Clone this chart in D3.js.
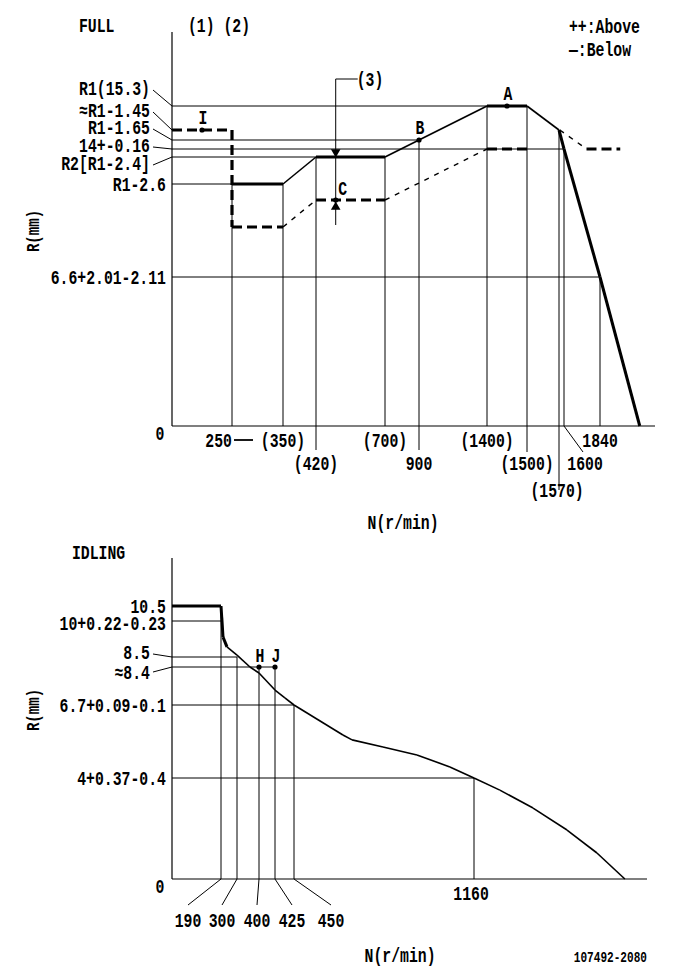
<!DOCTYPE html>
<html>
<head>
<meta charset="utf-8">
<script src="https://cdn.jsdelivr.net/npm/d3@7"></script>
<style>
body { margin: 0; background: #fff; }
svg { display: block; }
text { font-family: "Liberation Mono", "DejaVu Sans Mono", monospace; font-weight: bold; fill: #000; }
</style>
</head>
<body>
<svg id="chart" width="681" height="979"></svg>
<script>
// ---- FULL chart data (schematic axes) ----
var fullRpmTicks = [0, 250, 350, 420, 700, 900, 1400, 1500, 1570, 1600, 1840];
var fullLevels = ['0', '6.6', 'low', 'C', 'R1-2.6', 'R2', '14', 'R1-1.65', 'R1-1.45', 'R1'];
var fullLevelText = ['0', '6.6+2.01-2.11', '', '', 'R1-2.6', 'R2[R1-2.4]', '14+-0.16', 'R1-1.65', '≈R1-1.45', 'R1(15.3)'];
var fullSolid = [[250, 'R1-2.6'], [350, 'R1-2.6'], [420, 'R2'], [700, 'R2'], [900, 'R1-1.65'], [1400, 'R1'],
                 [1500, 'R1'], [1570, 'R1-1.45'], [1600, '14'], [1840, '6.6'], [2105, '0']];
var fullDashed = [[0, 'R1-1.45'], [250, 'R1-1.45'], [250, 'low'], [350, 'low'], [420, 'C'], [700, 'C'],
                  [1400, '14'], [1500, '14']];
var fullDashedHigh = [[1575, 'R1-1.45'], [1750, '14'], [1975, '14']];
var fullHGuides = [['R1', 1400], ['R1-1.65', 900], ['14', 1600], ['R2', 420], ['R1-2.6', 250], ['6.6', 1840]];
var fullVGuides = [[250, 'R1-2.6'], [350, 'R1-2.6'], [420, 'R2'], [700, 'R2'], [900, 'R1-1.65'],
                   [1400, 'R1'], [1500, 'R1'], [1570, 'R1-1.45'], [1600, '14'], [1840, '6.6']];
var fullXText = ['250', '(350)', '(420)', '(700)', '900', '(1400)', '(1500)', '(1570)', '1600', '1840'];
var fullPoints = [['I', 125, 'R1-1.45'], ['B', 900, 'R1-1.65'], ['A', 1450, 'R1']];
var fullMarkRpm = 500;

// ---- IDLING chart data ----
var idleRpmTicks = [0, 190, 300, 400, 425, 450, 1160];
var idleRTicks = [0, 4, 6.7, 8.4, 8.5, 10, 10.5];
var idleRText = ['0', '4+0.37-0.4', '6.7+0.09-0.1', '≈8.4', '8.5', '10+0.22-0.23', '10.5'];
var idleCurve = [[0, 10.5], [190, 10.5], [204, 9.33], [231, 8.92], [300, 8.58], [359, 8.4], [400, 8.13],
                 [425, 7.37], [438, 7.02], [450, 6.7], [643, 5.59], [679, 5.41], [801, 5.15],
                 [935, 4.85], [1065, 4.41], [1160, 4], [1262, 3.52], [1393, 2.81], [1527, 1.94],
                 [1645, 1.03], [1755, 0]];
var idleHGuides = [[10, 190], [8.5, 300], [8.4, 425], [6.7, 450], [4, 1160]];
var idleVGuides = [[190, 10.5], [300, 8.5], [400, 8.4], [425, 8.4], [450, 6.7], [1160, 4]];
var idleXText = ['190', '300', '400', '425', '450', '1160'];
var idlePoints = [['H', 400, 8.4], ['J', 425, 8.4]];

var svg = d3.select('#chart');
var SX = 0.74;

function label(g, x, y, s, anchor, size, rot) {
    var tr = 'translate(' + x + ',' + y + ')' + (rot ? ' rotate(' + rot + ')' : '') + ' scale(' + SX + ',1)';
    return g.append('text')
        .attr('transform', tr)
        .attr('text-anchor', anchor || 'middle')
        .attr('dy', '0.34em')
        .style('font-size', (size || 20) + 'px')
        .text(s);
}
function seg(g, x1, y1, x2, y2, w, dash) {
    var l = g.append('line').attr('x1', x1).attr('y1', y1).attr('x2', x2).attr('y2', y2)
        .attr('stroke', '#000').attr('stroke-width', w || 1);
    if (dash) l.attr('stroke-dasharray', dash);
    return l;
}
// draws a polyline segment by segment: flat/vertical/steep parts heavier
function curve(g, pts, x, y, dashed) {
    for (var i = 0; i < pts.length - 1; i++) {
        var x1 = x(pts[i][0]), y1 = y(pts[i][1]), x2 = x(pts[i + 1][0]), y2 = y(pts[i + 1][1]);
        var flat = Math.abs(y2 - y1) < 0.5 || Math.abs(x2 - x1) < 0.5 || Math.abs((y2 - y1) / (x2 - x1)) > 2;
        if (dashed) seg(g, x1, y1, x2, y2, flat ? 3.2 : 1.4, flat ? '10,5' : '5,6');
        else seg(g, x1, y1, x2, y2, flat ? 3 : 1.6);
    }
}
function dot(g, cx, cy) {
    g.append('circle').attr('cx', cx).attr('cy', cy).attr('r', 2.6).attr('fill', '#000');
}

// ================= FULL =================
var xF = d3.scaleLinear().domain(fullRpmTicks).range([172, 232, 283, 316, 385, 419, 487, 527, 559, 564, 600]);
var yF = d3.scaleOrdinal().domain(fullLevels).range([426, 277, 227, 200, 184, 157, 149, 140, 130, 106]);
var gF = svg.append('g');

label(gF, 79, 25, 'FULL', 'start');
label(gF, 188, 25, '(1) (2)', 'start');
label(gF, 569, 26, '++:Above', 'start');
label(gF, 569, 49, '—:Below', 'start');
label(gF, 33, 231, 'R(mm)', 'middle', 19, -90);
label(gF, 403, 522, 'N(r/min)', 'middle');

// guides
fullHGuides.forEach(function (d) { seg(gF, xF(0), yF(d[0]), xF(d[1]), yF(d[0])); });
var belowF = { 420: 450, 900: 450, 1500: 452, 1570: 490 };
fullVGuides.forEach(function (d) {
    seg(gF, xF(d[0]), yF(d[1]), xF(d[0]), belowF[d[0]] || yF('0'));
});

// axes
seg(gF, 172, 32, 172, yF('0'), 1.2);
seg(gF, 172, yF('0'), 655, yF('0'), 1.2);

// y tick labels
var leadF = { 'R1': -18, 'R1-1.45': -20, 'R1-1.65': -13, '14': -4, 'R2': 6 };
fullLevels.forEach(function (k, i) {
    var t = fullLevelText[i];
    if (!t || k === '0') return;
    var ly = yF(k);
    if (leadF[k] !== undefined) {
        var ty = ly + leadF[k];
        label(gF, 150, ty, t, 'end');
        seg(gF, 153, ty + 2, 172, ly);
    } else {
        label(gF, 166, ly, t, 'end');
    }
});
label(gF, 160, 433, '0', 'middle');

// x tick labels
var rowY = [440, 463, 490];
var rowF = [0, 0, 1, 0, 1, 0, 1, 2, 1, 0];
fullXText.forEach(function (t, i) {
    var xv = xF(fullRpmTicks[i + 1]);
    if (i === 0) {
        label(gF, xv, rowY[0], t, 'end');
        seg(gF, xv + 2, rowY[0], xv + 21, rowY[0], 1.8);
    } else if (t === '1600') {
        label(gF, xv + 21, rowY[1], t, 'middle');
        seg(gF, xv, yF('0'), xv + 19, 452);
    } else {
        label(gF, xv - (t === '(1570)' ? 2 : 0), rowY[rowF[i]], t, 'middle');
    }
});

// curves
curve(gF, fullSolid, xF, yF, false);
curve(gF, fullDashed, xF, yF, true);
curve(gF, fullDashedHigh, xF, yF, true);

// points
fullPoints.forEach(function (p) {
    var px = xF(p[1]), py = yF(p[2]);
    dot(gF, px, py);
    label(gF, px + 1, py - 13, p[0], 'middle');
});

// (3) and C markers
var mx = xF(fullMarkRpm);
seg(gF, mx, 79, mx + 22, 79);
seg(gF, mx, 79, mx, 225);
label(gF, 370, 79, '(3)', 'middle');
gF.append('path').attr('d', d3.symbol(d3.symbolTriangle, 40)())
    .attr('transform', 'translate(' + mx + ',' + (yF('R2') - 5) + ') rotate(180)');
dot(gF, mx, yF('C'));
gF.append('path').attr('d', d3.symbol(d3.symbolTriangle, 40)())
    .attr('transform', 'translate(' + mx + ',' + (yF('C') + 7) + ')');
label(gF, mx + 7, 188, 'C', 'middle');

// ================= IDLING =================
var xI = d3.scaleLinear().domain(idleRpmTicks).range([172, 221, 237, 259, 275, 294, 474]);
var yI = d3.scaleLinear().domain(idleRTicks).range([879, 778, 705, 667, 657, 621, 606]);
var gI = svg.append('g');

label(gI, 72, 552, 'IDLING', 'start');
label(gI, 33, 710, 'R(mm)', 'middle', 19, -90);
label(gI, 400, 955, 'N(r/min)', 'middle');
label(gI, 647, 957, '107492-2080', 'end', 15);

idleHGuides.forEach(function (d) { seg(gI, xI(0), yI(d[0]), xI(d[1]), yI(d[0])); });
idleVGuides.forEach(function (d) { seg(gI, xI(d[0]), yI(d[1]), xI(d[0]), yI(0)); });

seg(gI, 172, 558, 172, yI(0), 1.2);
seg(gI, 172, yI(0), 647, yI(0), 1.2);

var leadI = { 8.5: -5, 8.4: 5 };
idleRTicks.forEach(function (v, i) {
    if (v === 0) return;
    var ly = yI(v);
    if (leadI[v] !== undefined) {
        var ty = ly + leadI[v];
        label(gI, 150, ty, idleRText[i], 'end');
        seg(gI, 153, ty + (leadI[v] < 0 ? 2 : 0), 172, ly);
    } else {
        label(gI, 166, ly + (v === 10 ? 2 : 0), idleRText[i], 'end');
    }
});
label(gI, 160, 886, '0', 'middle');

// x labels with leaders
var idleLabX = [188, 222, 257, 292, 331];
idleXText.forEach(function (t, i) {
    var xv = xI(idleRpmTicks[i + 1]);
    if (t === '1160') {
        label(gI, xv - 3, 893, t, 'middle');
    } else {
        seg(gI, xv, yI(0), idleLabX[i], 905);
        label(gI, idleLabX[i], 920, t, 'middle');
    }
});

curve(gI, idleCurve, xI, yI, false);

idlePoints.forEach(function (p) {
    var px = xI(p[1]), py = yI(p[2]);
    dot(gI, px, py);
    label(gI, px + 1, py - 12, p[0], 'middle');
});
</script>
</body>
</html>
